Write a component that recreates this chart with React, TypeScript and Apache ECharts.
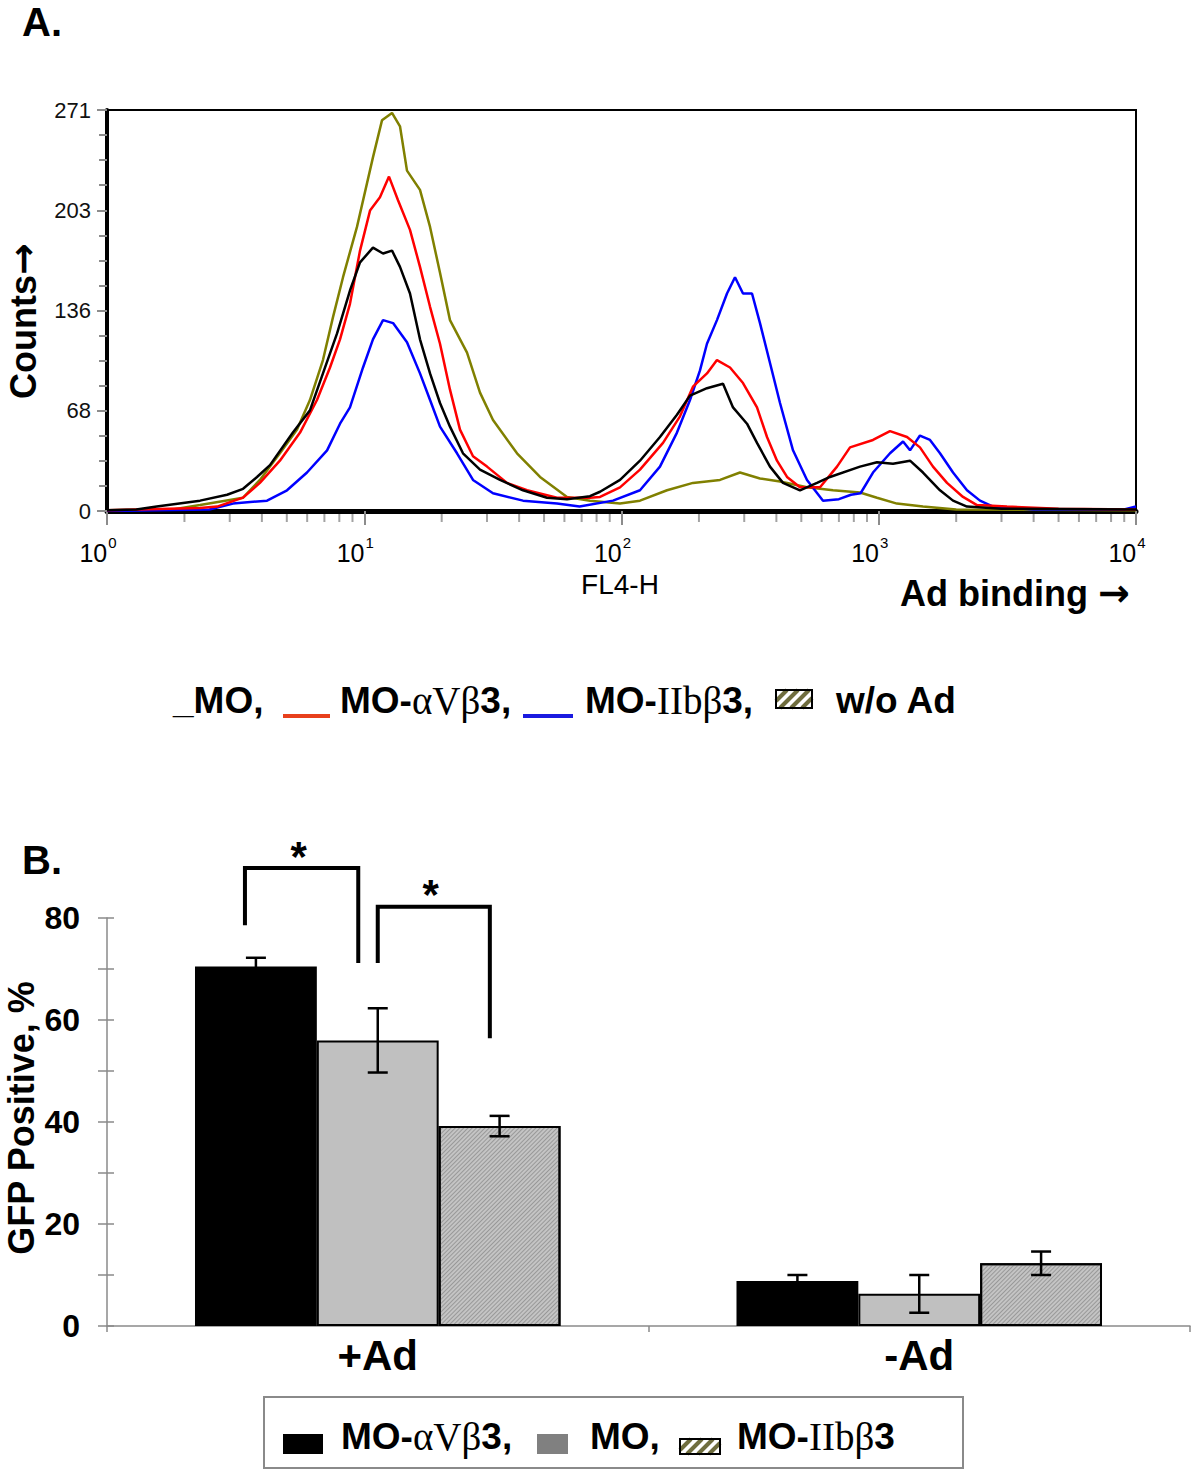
import React, { useEffect, useRef } from "react";
import * as echarts from "echarts";

// ---------------- Panel A: FL4-H histograms ----------------
const FL4_MIN = 1;
const FL4_MAX = 10000;
const COUNT_MAX = 271;
const COUNT_STEP = 67.75;
const FL4_MINOR_TICKS = [
  2, 3, 4, 5, 6, 7, 8, 9, 20, 30, 40, 50, 60, 70, 80, 90, 200, 300, 400, 500, 600, 700, 800, 900,
  2000, 3000, 4000, 5000, 6000, 7000, 8000, 9000,
];

// _MO (black)
const MO_HIST: [number, number][] = [
  [1, 0.5], [1.3, 1], [1.56, 3], [2.3, 7], [2.93, 11], [3.38, 15], [3.83, 23], [4.3, 31],
  [5.28, 53], [6.15, 68], [6.91, 93], [7.84, 120], [8.8, 149], [9.63, 168], [10.81, 178],
  [11.83, 174], [12.82, 176], [13.77, 165], [15.06, 147], [16.47, 116], [18.02, 93], [19.7, 73],
  [21.54, 57], [24.2, 39], [28.18, 28], [33.71, 21], [41.41, 14], [51.34, 9], [61.4, 8],
  [75.4, 10], [82.5, 13], [98.7, 21], [118, 34], [141.1, 50], [164.3, 65], [184.6, 78],
  [214.9, 83], [248.1, 86], [271.3, 70], [307.5, 59], [336.3, 46], [377.8, 30], [424.4, 19],
  [494.1, 14], [575.4, 19], [646.4, 23], [845.6, 30], [984.4, 33], [1136, 32], [1323, 34],
  [1486, 26], [1730, 14], [1944, 7], [2203, 3], [3000, 1.5], [10000, 1],
];
// MO-αVβ3 (red)
const AVB3_HIST: [number, number][] = [
  [1, 0.5], [2.3, 2], [2.68, 3], [3.38, 9], [3.93, 19], [4.7, 34], [5.63, 53], [6.55, 75],
  [7.36, 97], [8.05, 116], [8.8, 140], [9.63, 176], [10.53, 203], [11.51, 212], [12.48, 226],
  [13.53, 210], [15.06, 190], [16.47, 165], [18.02, 138], [19.7, 113], [21.54, 82], [23.56, 55],
  [26.47, 37], [30.01, 30], [35.89, 19], [42.93, 14], [56.15, 9], [75.44, 9], [82.5, 9.5],
  [98.67, 16], [118, 28], [145, 46], [168.8, 64], [189.6, 84], [214.9, 93], [235, 102],
  [264.1, 97], [296.7, 86.5], [336.3, 70], [367.8, 50], [402.2, 34], [440, 23], [494.1, 16],
  [591, 16], [688.3, 30], [773.3, 43], [949.8, 48], [1106, 54], [1288, 50], [1446, 43],
  [1625, 30], [1842, 19], [2126, 9.5], [2409, 4], [3151, 3], [5000, 1.5], [10000, 1],
];
// MO-IIbβ3 (blue)
const IIBB3_HIST: [number, number][] = [
  [1, 0], [2.5, 1], [3.09, 5], [4.19, 7], [5.01, 14], [5.99, 26], [7.17, 41], [8.05, 59],
  [8.8, 70], [9.89, 97], [10.81, 116], [11.83, 129], [12.94, 127], [14.66, 114], [16.47, 93],
  [18.02, 75], [19.7, 57], [22.94, 39], [26.47, 21], [31.66, 12], [41.41, 7], [56.15, 5],
  [68.7, 3], [92.68, 7], [118, 14], [141.1, 30], [164.3, 53], [184.6, 75], [201.9, 95],
  [214.9, 113], [235, 129], [257.1, 147], [276.2, 158], [296.7, 147], [321.6, 147], [345.4, 127],
  [377.8, 100], [413.2, 73], [464.2, 41], [526.1, 21], [607.1, 7], [700, 8], [780, 11],
  [850, 12], [949.8, 26], [1106, 39], [1243, 47], [1323, 41], [1446, 51], [1582, 48],
  [1730, 39], [1944, 26], [2203, 14], [2475, 7], [2781, 3], [4000, 1], [9000, 1], [10000, 3],
];
// w/o Ad (olive)
const NOAD_HIST: [number, number][] = [
  [1, 0.5], [1.8, 1], [2.3, 4], [3.38, 9], [3.93, 21], [4.7, 39], [5.48, 55], [6.15, 75],
  [6.91, 102], [7.56, 131], [8.27, 158], [8.8, 175], [9.37, 192], [10.81, 239], [11.72, 264],
  [12.82, 269], [13.77, 260], [14.66, 230], [16.47, 217], [18.02, 192], [19.7, 161],
  [21.54, 129], [25.09, 107], [28.18, 80], [31.66, 61.5], [39.25, 39], [48.23, 23], [61.39, 9.5],
  [75.44, 7], [98.67, 5], [118, 7], [150.3, 14], [189.6, 19], [241.5, 21], [288.8, 26],
  [345.4, 22], [413.2, 20], [526.1, 16], [664.1, 14], [845.6, 12.5], [984.4, 9], [1177, 5],
  [1486, 3], [2000, 1], [10000, 0.5],
];

// ---------------- Panel B: GFP positive bars ----------------
const BAR_CATEGORIES = ["+Ad", "-Ad"];
const AVB3_MEAN = [70.5, 8.8];
const AVB3_ERR = [1.7, 1.2];
const MO_MEAN = [56, 6.3];
const MO_ERR = [6.3, 3.7];
const IIBB3_MEAN = [39.2, 12.3];
const IIBB3_ERR = [2.0, 2.3];
// significance brackets: [category, left-leg bottom, top, right-leg bottom]
const SIG_BRACKETS = [
  [0, 78.6, 89.8, 71.2],
  [0, 71.2, 82.2, 56.4],
];

// style / geometry
const BAR_FRAC = 0.225;
const BRACKET_X = [
  [-1.09, -0.16],
  [0, 0.92],
];
const SANS = "'Liberation Sans', Arial, sans-serif";
const SERIF = "'Liberation Serif', 'Times New Roman', serif";
const ARROW = "'DejaVu Sans', sans-serif";

function hatchBox(x: number, y: number, w: number, h: number) {
  const lines: any[] = [];
  const step = 11;
  for (let k = -h; k < w; k += step) {
    let x1 = x + k, y1 = y + h, x2 = x + k + h, y2 = y;
    if (x1 < x) { y1 = y + h - (x - x1); x1 = x; }
    if (x2 > x + w) { y2 = y + (x2 - (x + w)); x2 = x + w; }
    lines.push({ type: "line", shape: { x1, y1, x2, y2 }, style: { stroke: "#6f6d3e", lineWidth: 4 } });
  }
  return {
    type: "group",
    children: [
      { type: "rect", shape: { x, y, width: w, height: h }, style: { fill: "#fff" } },
      ...lines,
      { type: "rect", shape: { x, y, width: w, height: h }, style: { fill: "none", stroke: "#000", lineWidth: 2 } },
    ],
  };
}

const richLabel = (size: number) => ({
  a: { fontFamily: SANS, fontWeight: "bold", fontSize: size, fill: "#000" },
  g: { fontFamily: SERIF, fontWeight: "normal", fontSize: size + 2, fill: "#000" },
});
const richArrow = {
  t: { fontFamily: SANS, fontWeight: "bold", fontSize: 36, fill: "#000" },
  r: { fontFamily: ARROW, fontWeight: "bold", fontSize: 38, fill: "#000" },
};

export default function App() {
  const ref = useRef<HTMLDivElement>(null);
  useEffect(() => {
    if (!ref.current) return;
    const chart = echarts.init(ref.current, undefined, { renderer: "svg" });

    const errData: number[][] = [];
    [AVB3_MEAN, MO_MEAN, IIBB3_MEAN].forEach((means, slot) => {
      const errs = [AVB3_ERR, MO_ERR, IIBB3_ERR][slot];
      means.forEach((m, c) => errData.push([c, m, errs[c], slot]));
    });

    const lineSeries = (name: string, data: [number, number][], color: string) => ({
      type: "line",
      name,
      xAxisIndex: 0,
      yAxisIndex: 0,
      data,
      symbol: "none",
      lineStyle: { color, width: 2.5 },
      itemStyle: { color },
      z: 3,
    });

    const option: any = {
      animation: false,
      backgroundColor: "#fff",
      grid: [
        { left: 107, right: 64, top: 110, bottom: 967, show: true, borderColor: "#000", borderWidth: 2, backgroundColor: "transparent" },
        { left: 107, right: 10, top: 918, bottom: 152 },
      ],
      xAxis: [
        {
          type: "log",
          gridIndex: 0,
          logBase: 10,
          min: FL4_MIN,
          max: FL4_MAX,
          axisLine: { show: true, lineStyle: { color: "#000", width: 5 } },
          axisTick: { show: true, length: 14, lineStyle: { color: "#8c8c8c", width: 2 } },
          splitLine: { show: false },
          axisLabel: {
            margin: 24,
            fontSize: 25,
            padding: [0, 18, 0, 0],
            formatter: (v: number) => `{b|10}{s|${Math.round(Math.log10(v))}}`,
            rich: {
              b: { fontFamily: SANS, fontSize: 25, color: "#000", lineHeight: 30, verticalAlign: "bottom" },
              s: { fontFamily: SANS, fontSize: 15, color: "#000", lineHeight: 15, verticalAlign: "top", padding: [0, 0, 12, 1] },
            },
          },
        },
        {
          type: "category",
          gridIndex: 1,
          data: BAR_CATEGORIES,
          axisLine: { show: true, lineStyle: { color: "#8a8a8a", width: 1.5 } },
          axisTick: { show: true, length: 6, lineStyle: { color: "#8a8a8a", width: 1.5 } },
          axisLabel: { fontFamily: SANS, fontWeight: "bold", fontSize: 42, color: "#000", margin: 8 },
        },
      ],
      yAxis: [
        {
          type: "value",
          gridIndex: 0,
          min: 0,
          max: COUNT_MAX,
          interval: COUNT_STEP,
          axisLine: { show: true, lineStyle: { color: "#000", width: 4 } },
          axisTick: { show: true, length: 10, lineStyle: { color: "#8c8c8c", width: 2 } },
          minorTick: { show: true, splitNumber: 4, length: 8, lineStyle: { color: "#8c8c8c", width: 2 } },
          splitLine: { show: false },
          axisLabel: {
            margin: 16,
            fontFamily: SANS,
            fontSize: 22,
            color: "#111",
            formatter: (v: number) => String(Math.round(v)),
          },
        },
        {
          type: "value",
          gridIndex: 1,
          min: 0,
          max: 80,
          interval: 20,
          axisLine: { show: true, lineStyle: { color: "#8a8a8a", width: 1.5 } },
          axisTick: { show: true, length: 9, lineStyle: { color: "#8a8a8a", width: 1.5 } },
          minorTick: { show: true, splitNumber: 2, length: 9, lineStyle: { color: "#8a8a8a", width: 1.5 } },
          splitLine: { show: false },
          axisLabel: { margin: 27, fontFamily: SANS, fontWeight: "bold", fontSize: 32, color: "#000" },
        },
        {
          type: "value",
          gridIndex: 1,
          position: "left",
          min: 0,
          max: 80,
          interval: 20,
          axisLine: { show: false },
          axisTick: { show: true, inside: true, length: 7, lineStyle: { color: "#8a8a8a", width: 1.5 } },
          minorTick: { show: true, splitNumber: 2, length: 7, lineStyle: { color: "#8a8a8a", width: 1.5 } },
          splitLine: { show: false },
          axisLabel: { show: false },
        },
      ],
      series: [
        lineSeries("w/o Ad", NOAD_HIST, "#808000"),
        lineSeries("MO-IIbβ3", IIBB3_HIST, "#0000ff"),
        lineSeries("MO-αVβ3", AVB3_HIST, "#ff0000"),
        lineSeries("MO", MO_HIST, "#000000"),
        {
          type: "scatter",
          xAxisIndex: 0,
          yAxisIndex: 0,
          data: FL4_MINOR_TICKS.map((v) => [v, 0]),
          symbol: "rect",
          symbolSize: [2, 8],
          symbolOffset: [0, 7],
          itemStyle: { color: "#8c8c8c" },
          clip: false,
          silent: true,
          z: 1,
        },
        {
          type: "bar",
          name: "MO-αVβ3",
          xAxisIndex: 1,
          yAxisIndex: 1,
          data: AVB3_MEAN,
          barWidth: "22.5%",
          barGap: "0%",
          itemStyle: { color: "#000", borderColor: "#000", borderWidth: 2 },
        },
        {
          type: "bar",
          name: "MO",
          xAxisIndex: 1,
          yAxisIndex: 1,
          data: MO_MEAN,
          barWidth: "22.5%",
          barGap: "0%",
          itemStyle: { color: "#c0c0c0", borderColor: "#000", borderWidth: 2 },
        },
        {
          type: "bar",
          name: "MO-IIbβ3",
          xAxisIndex: 1,
          yAxisIndex: 1,
          data: IIBB3_MEAN,
          barWidth: "22.5%",
          barGap: "0%",
          itemStyle: {
            color: "#c4c4c4",
            borderColor: "#000",
            borderWidth: 2,
            decal: {
              symbol: "rect",
              symbolSize: 1,
              color: "rgba(110,110,110,0.5)",
              dashArrayX: [1, 0],
              dashArrayY: [1, 2],
              rotation: -Math.PI / 4,
            },
          },
        },
        {
          type: "custom",
          xAxisIndex: 1,
          yAxisIndex: 1,
          data: errData,
          clip: false,
          z: 5,
          renderItem: (params: any, api: any) => {
            const c = api.value(0), m = api.value(1), e = api.value(2), slot = api.value(3);
            const band = api.size([1, 0])[0];
            const x = api.coord([c, m])[0] + (slot - 1) * band * BAR_FRAC;
            const yt = api.coord([c, m + e])[1];
            const yb = api.coord([c, m - e])[1];
            const hw = 10;
            const st = { stroke: "#000", lineWidth: 2.5 };
            return {
              type: "group",
              children: [
                { type: "line", shape: { x1: x, y1: yt, x2: x, y2: yb }, style: st },
                { type: "line", shape: { x1: x - hw, y1: yt, x2: x + hw, y2: yt }, style: st },
                { type: "line", shape: { x1: x - hw, y1: yb, x2: x + hw, y2: yb }, style: st },
              ],
            };
          },
        },
        {
          type: "custom",
          xAxisIndex: 1,
          yAxisIndex: 1,
          data: SIG_BRACKETS,
          clip: false,
          z: 6,
          renderItem: (params: any, api: any) => {
            const c = api.value(0);
            const band = api.size([1, 0])[0];
            const slotW = band * BAR_FRAC;
            const cx = api.coord([c, 0])[0];
            const [fl, fr] = BRACKET_X[params.dataIndex];
            const xl = cx + fl * slotW;
            const xr = cx + fr * slotW;
            const yl = api.coord([c, api.value(1)])[1];
            const yt = api.coord([c, api.value(2)])[1];
            const yr = api.coord([c, api.value(3)])[1];
            return {
              type: "group",
              children: [
                {
                  type: "polyline",
                  shape: { points: [[xl, yl], [xl, yt], [xr, yt], [xr, yr]] },
                  style: { stroke: "#000", lineWidth: 4, fill: "none", lineJoin: "miter" },
                },
                {
                  type: "text",
                  x: (xl + xr) / 2 - 3,
                  y: yt - 12,
                  style: { text: "*", font: `bold 42px ${SANS}`, fill: "#000", align: "center", verticalAlign: "middle" },
                },
              ],
            };
          },
        },
      ],
      graphic: [
        { type: "text", x: 22, y: 22, style: { text: "A.", font: `bold 40px ${SANS}`, fill: "#000", verticalAlign: "middle" } },
        { type: "text", x: 22, y: 860, style: { text: "B.", font: `bold 40px ${SANS}`, fill: "#000", verticalAlign: "middle" } },
        {
          type: "text", x: 23, y: 321, rotation: Math.PI / 2,
          style: { text: "{t|Counts}{r|→}", rich: richArrow, fill: "#000", align: "center", verticalAlign: "middle" },
        },
        { type: "text", x: 620, y: 584, style: { text: "FL4-H", font: `28px ${SANS}`, fill: "#000", align: "center", verticalAlign: "middle" } },
        { type: "text", x: 900, y: 593, style: { text: "{t|Ad binding }{r|→}", rich: richArrow, fill: "#000", verticalAlign: "middle" } },
        {
          type: "text", x: 21, y: 1118, rotation: Math.PI / 2,
          style: { text: "GFP Positive, %", font: `bold 36px ${SANS}`, fill: "#000", align: "center", verticalAlign: "middle" },
        },
        // legend A
        { type: "text", x: 173, y: 700, style: { text: "_MO,", font: `bold 37px ${SANS}`, fill: "#000", verticalAlign: "middle" } },
        { type: "rect", shape: { x: 283, y: 714, width: 47, height: 4 }, style: { fill: "#e8401c" } },
        { type: "text", x: 340, y: 700, style: { text: "{a|MO-}{g|αVβ}{a|3,}", rich: richLabel(37), fill: "#000", verticalAlign: "middle" } },
        { type: "rect", shape: { x: 523, y: 714, width: 50, height: 4 }, style: { fill: "#1a1ae0" } },
        { type: "text", x: 585, y: 700, style: { text: "{a|MO-}{g|IIbβ}{a|3,}", rich: richLabel(37), fill: "#000", verticalAlign: "middle" } },
        hatchBox(776, 690, 36, 18),
        { type: "text", x: 836, y: 700, style: { text: "w/o Ad", font: `bold 37px ${SANS}`, fill: "#000", verticalAlign: "middle" } },
        // legend B
        { type: "rect", shape: { x: 264, y: 1397, width: 699, height: 71 }, style: { fill: "#fff", stroke: "#8a8a8a", lineWidth: 2 } },
        { type: "rect", shape: { x: 283, y: 1434, width: 40, height: 20 }, style: { fill: "#000" } },
        { type: "text", x: 341, y: 1436, style: { text: "{a|MO-}{g|αVβ}{a|3,}", rich: richLabel(37), fill: "#000", verticalAlign: "middle" } },
        { type: "rect", shape: { x: 537, y: 1434, width: 31, height: 20 }, style: { fill: "#808080" } },
        { type: "text", x: 590, y: 1436, style: { text: "MO,", font: `bold 37px ${SANS}`, fill: "#000", verticalAlign: "middle" } },
        hatchBox(680, 1439, 40, 15),
        { type: "text", x: 737, y: 1436, style: { text: "{a|MO-}{g|IIbβ}{a|3}", rich: richLabel(37), fill: "#000", verticalAlign: "middle" } },
      ],
    };

    chart.setOption(option);
    return () => chart.dispose();
  }, []);

  return <div ref={ref} style={{ position: "absolute", left: 0, top: 0, width: 1200, height: 1478 }} />;
}
